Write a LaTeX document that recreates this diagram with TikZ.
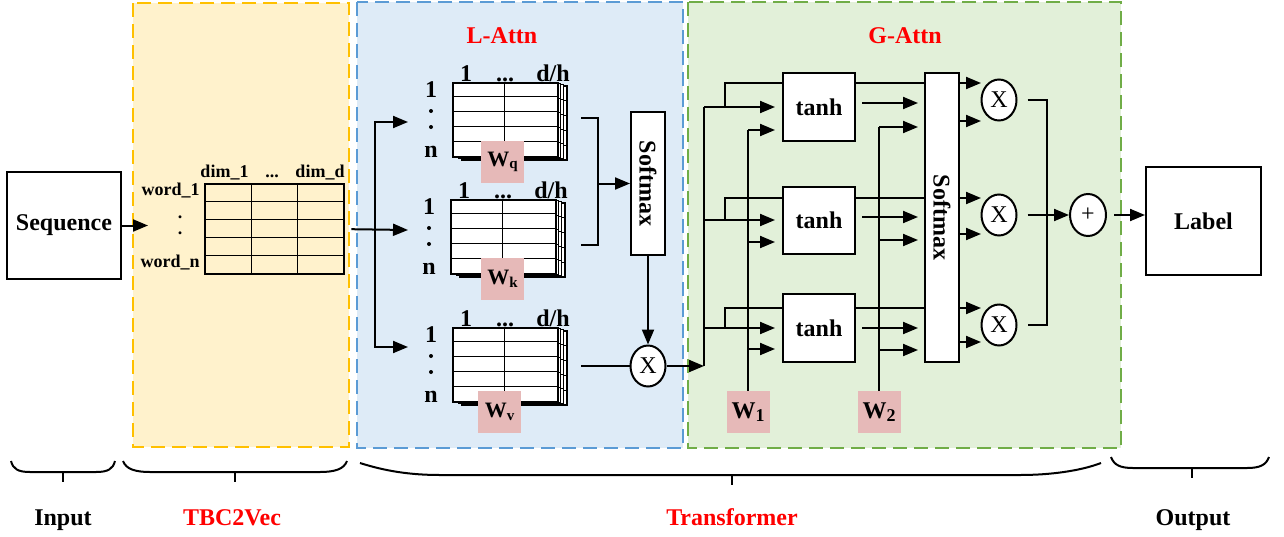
\documentclass[tikz,border=0pt]{standalone}
\usepackage{fontspec}
\setmainfont{Liberation Serif}
\usetikzlibrary{arrows.meta,shapes.geometric,calc}

\definecolor{ylwfill}{HTML}{FFF2CC}
\definecolor{ylwline}{HTML}{FFC000}
\definecolor{bluefill}{HTML}{DEEBF7}
\definecolor{blueline}{HTML}{5B9BD5}
\definecolor{grnfill}{HTML}{E2F0D9}
\definecolor{grnline}{HTML}{70AD47}
\definecolor{wpink}{HTML}{E6B9B8}
\definecolor{hdred}{HTML}{FF0000}

\tikzset{
  x=0.5pt, y=-0.5pt,
  conn/.style={line width=1pt},
  arr/.style={line width=1pt, -{Triangle[length=7.5pt,width=6pt]}},
  region/.style={line width=1pt, dash pattern=on 7pt off 3.5pt},
  box/.style={draw, line width=1pt, fill=white, inner sep=0pt, font=\fontsize{12}{14}\selectfont\bfseries},
  wbox/.style={fill=wpink, inner sep=0pt, minimum width=21.5pt, minimum height=21pt},
  opnode/.style={draw, ellipse, line width=1pt, fill=white, inner sep=0pt, minimum width=17.5pt, minimum height=20.5pt, font=\fontsize{12}{14}\selectfont},
  lbl/.style={font=\fontsize{12}{14}\selectfont\bfseries, inner sep=0pt},
  smalllbl/.style={font=\fontsize{9}{11}\selectfont\bfseries, inner sep=0pt},
  gridline/.style={line width=0.5pt},
  bracepath/.style={line width=1pt},
}

\newcommand{\wsub}[3]{{\fontsize{#1}{#1}\selectfont\bfseries W}\raisebox{-0.3ex}{\fontsize{#2}{#2}\selectfont\bfseries #3}}

\newcommand{\matstack}[3]{%
  \foreach \k in {3,2,1}{
    \draw[line width=0.7pt, fill=white] ({#2+3.3*\k},{#3+1.3*\k}) rectangle ++(105,74);
    \foreach \r in {1,...,4} \draw[gridline] ({#2+3.3*\k},{#3+1.3*\k+14.8*\r}) -- ++(105,0);
  }
  \node[draw, line width=1pt, fill=white, inner sep=0pt, minimum width=52.5pt, minimum height=37pt, anchor=north west] (#1) at (#2,#3) {};
  \foreach \r in {1,...,4} \draw[gridline] (#2,{#3+14.8*\r}) -- ++(105,0);
  \draw[gridline] ({#2+52},#3) -- ++(0,74);
  \node[lbl, anchor=base] (#1-c1) at ({#2+14},{#3-1}) {1};
  \node[lbl, anchor=base] (#1-cd) at ({#2+53},{#3-1}) {...};
  \node[lbl, anchor=base] (#1-cn) at ({#2+101},{#3-1}) {d/h};
  \node[lbl, anchor=base] (#1-r1) at ({#2-21},{#3+15}) {1};
  \fill ({#2-21},{#3+29}) circle[radius=1pt];
  \fill ({#2-21},{#3+45}) circle[radius=1pt];
  \node[lbl, anchor=base] (#1-rn) at ({#2-21},{#3+75}) {n};
}

\begin{document}
\begin{tikzpicture}
\useasboundingbox (0,0) rectangle (1284,536);

% regions
\path[region, draw=ylwline, fill=ylwfill] (133,3) rectangle (349,447);
\path[region, draw=blueline, fill=bluefill] (357,2) rectangle (683,448);
\path[region, draw=grnline, fill=grnfill] (688,2) rectangle (1121,448);

% headers
\node[lbl, text=hdred, anchor=base] (hL) at (502,43) {L-Attn};
\node[lbl, text=hdred, anchor=base] (hG) at (905,43) {G-Attn};

% input
\node[box, minimum width=57pt, minimum height=53.5pt] (seq) at (64,225.5) {Sequence};
\coordinate (embin) at (148,226);

% embedding matrix
\foreach \yy in {201,219,237,255} \draw[gridline] (204,\yy) -- (343,\yy);
\foreach \xx in {251,297} \draw[gridline] (\xx,183) -- (\xx,273);
\node[draw, line width=1.2pt, inner sep=0pt, minimum width=69.5pt, minimum height=45pt, anchor=north west] (emb) at (204,183) {};
\node[smalllbl, anchor=base] (ed1) at (224.5,177) {dim\_1};
\node[smalllbl, anchor=base] (edd) at (272,177) {...};
\node[smalllbl, anchor=base] (edn) at (320,177) {dim\_d};
\node[smalllbl, anchor=base east] (ew1) at (200,195) {word\_1};
\node[smalllbl, anchor=base] (edot1) at (180,218) {.};
\node[smalllbl, anchor=base] (edot2) at (180,234) {.};
\node[smalllbl, anchor=base east] (ewn) at (200,267) {word\_n};

% L-Attn matrices
\matstack{mq}{452}{82}
\matstack{mk}{450}{199}
\matstack{mv}{452}{327}

% connectors: input side
\draw[arr] (seq.east) -- (seq.east -| embin);
\coordinate (qin) at (408,122);
\coordinate (kin) at (408,230);
\coordinate (vin) at (408,347);
\coordinate (spl) at (375,235);
\draw[arr] ([xshift=3pt]emb.east) -- (kin);
\draw[arr] (spl) |- (qin);
\draw[arr] (spl) |- (vin);

% L-Attn softmax and multiply
\node[box, minimum width=17pt, minimum height=71.5pt] (smL) at (648,183.5) {};
\node[lbl, rotate=-90] (smLt) at (smL) {Softmax};
\node[opnode] (mulL) at (648,366) {X};
\coordinate (bq) at (581,118);
\coordinate (bk) at (581,245);
\coordinate (bm) at (598,183.5);
\draw[conn] (bq) -- ++(17,0) |- (bk);
\draw[arr] (bm) -- (smL.west);
\draw[arr] (smL.south) -- (mulL.north);
\coordinate (vout) at (581,366);
\draw[conn] (vout) -- (mulL.west);

% G-Attn trunk
\coordinate (vtop) at (704,107);
\coordinate (vbot) at (704,366);
\draw[conn] (vtop) -- (vbot);
\draw[arr] (mulL.east) -- (vbot);

% weight boxes
\node[wbox] (w1) at (748,412) {\wsub{12}{9}{1}};
\node[wbox] (w2) at (879,412) {\wsub{12}{9}{2}};

\path (819,107) coordinate (t1c) (819,220) coordinate (t2c) (819,328) coordinate (t3c);

\foreach \i/\c/\r/\wa/\rc/\wb/\s in {1/107/83/130/103/127/121, 2/220/198/242/217/240/234, 3/328/308/349/328/350/342} {
  \coordinate (in\i) at (704,\c);
  \coordinate (tw\i) at (775,\c);
  \draw[arr] (in\i) -- (tw\i);
  \coordinate (rb\i) at (725,\c);
  \coordinate (re\i) at (981,\r);
  \draw[arr] (rb\i) |- (re\i);
  \coordinate (wa\i) at (748,\wa);
  \coordinate (wat\i) at (775,\wa);
  \draw[arr] (wa\i) -- (wat\i);
  \coordinate (ra\i) at (862,\rc);
  \coordinate (rat\i) at (918,\rc);
  \draw[arr] (ra\i) -- (rat\i);
  \coordinate (wb\i) at (879,\wb);
  \coordinate (wbt\i) at (918,\wb);
  \draw[arr] (wb\i) -- (wbt\i);
  \coordinate (sos\i) at (959,\s);
  \coordinate (so\i) at (981,\s);
  \draw[arr] (sos\i) -- (so\i);
}
\draw[conn] (w1.north) -- (wa1);
\draw[conn] (w2.north) -- (wb1);

\node[box, minimum width=36pt, minimum height=34pt] (t1) at (t1c) {tanh};
\node[box, minimum width=36pt, minimum height=33.5pt] (t2) at (t2c) {tanh};
\node[box, minimum width=36pt, minimum height=34pt] (t3) at (t3c) {tanh};
\node[box, minimum width=17pt, minimum height=144.5pt] (smG) at (942,217.5) {};
\node[lbl, rotate=-90] (smGt) at (smG) {Softmax};

% multiply circles and sum
\node[opnode] (x1) at (999,100) {X};
\node[opnode] (x2) at (999,215) {X};
\node[opnode] (x3) at (999,325) {X};
\node[opnode, minimum width=18pt, minimum height=21pt] (plus) at (1088,215) {+};
\node[box, minimum width=57.5pt, minimum height=54pt] (label) at (1203.5,221) {Label};

\draw[conn] ([xshift=5pt]x1.east) -- ++(19,0) |- ([xshift=5pt]x3.east);
\draw[arr] ([xshift=5pt]x2.east) -- (plus.west);
\draw[arr] ([xshift=3.5pt]plus.east) -- (plus.east -| label.west);

% W labels in L-Attn
\node[wbox] (wq) at (502.5,162) {\wsub{11}{7.5}{q}};
\node[wbox] (wk) at (502.5,279) {\wsub{11}{7.5}{k}};
\node[wbox] (wv) at (499.5,412) {\wsub{11}{7.5}{v}};

% braces
\draw[bracepath] (11,461) .. controls (13,469) and (18,472) .. (30,472) -- (96,472) .. controls (108,472) and (113,469) .. (115,461);
\draw[bracepath] (63,472) -- (63,482);
\draw[bracepath] (123,461) .. controls (126,469) and (135,472) .. (150,472) -- (320,472) .. controls (335,472) and (344,469) .. (347,461);
\draw[bracepath] (235,472) -- (235,482);
\draw[bracepath] (360,463) .. controls (385,471) and (410,475) .. (440,475) -- (1020,475) .. controls (1050,475) and (1080,471) .. (1101,463);
\draw[bracepath] (732,475) -- (732,485);
\draw[bracepath] (1111,457) .. controls (1114,465) and (1120,468) .. (1133,468) -- (1247,468) .. controls (1260,468) and (1266,465) .. (1269,457);
\draw[bracepath] (1192,468) -- (1192,478);

% bottom labels
\node[lbl, anchor=base] (lin) at (63,525) {Input};
\node[lbl, anchor=base, text=hdred] (ltbc) at (232,525) {TBC2Vec};
\node[lbl, anchor=base, text=hdred] (ltr) at (732,525) {Transformer};
\node[lbl, anchor=base] (lout) at (1193,525) {Output};
\end{tikzpicture}
\end{document}
